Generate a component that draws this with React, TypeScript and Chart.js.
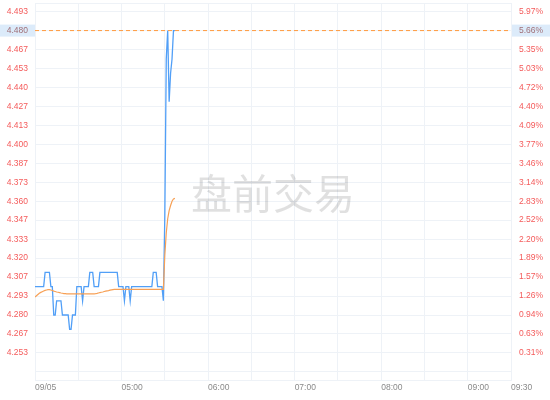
import { useEffect, useRef } from "react"
import { Chart, type ChartConfiguration, registerables } from "chart.js"

Chart.register(...registerables)

// minutes after 04:00
const xTickValues = [0, 30, 60, 90, 120, 150, 180, 210, 240, 270, 300, 330]
const xTickLabels = ["09/05", "", "05:00", "", "06:00", "", "07:00", "", "08:00", "", "09:00", "09:30"]

const yTickValues = [
  4.24, 4.2533, 4.2667, 4.28, 4.2933, 4.3067, 4.32, 4.3333, 4.3467, 4.36,
  4.3733, 4.3867, 4.4, 4.4133, 4.4267, 4.44, 4.4533, 4.4667, 4.48, 4.4933,
]
const yTickLabels = [
  "", "4.253", "4.267", "4.280", "4.293", "4.307", "4.320", "4.333", "4.347", "4.360",
  "4.373", "4.387", "4.400", "4.413", "4.427", "4.440", "4.453", "4.467", "4.480", "4.493",
]
const pctTickLabels = [
  "", "0.31%", "0.63%", "0.94%", "1.26%", "1.57%", "1.89%", "2.20%", "2.52%", "2.83%",
  "3.14%", "3.46%", "3.77%", "4.09%", "4.40%", "4.72%", "5.03%", "5.35%", "5.66%", "5.97%",
]

const lastPrice = 4.48
const lastPct = "5.66%"

const priceData = [
  4.30, 4.30, 4.30, 4.30, 4.30, 4.30, 4.30, 4.31, 4.31, 4.31,
  4.31, 4.30, 4.30, 4.28, 4.28, 4.29, 4.29, 4.29, 4.29, 4.28,
  4.28, 4.28, 4.28, 4.28, 4.27, 4.27, 4.28, 4.28, 4.28, 4.30,
  4.30, 4.30, 4.30, 4.29, 4.30, 4.30, 4.30, 4.30, 4.31, 4.31,
  4.31, 4.30, 4.30, 4.30, 4.30, 4.31, 4.31, 4.31, 4.31, 4.31,
  4.31, 4.31, 4.31, 4.31, 4.31, 4.31, 4.31, 4.31, 4.30, 4.30,
  4.30, 4.30, 4.29, 4.30, 4.30, 4.30, 4.29, 4.30, 4.30, 4.30,
  4.30, 4.30, 4.30, 4.30, 4.30, 4.30, 4.30, 4.30, 4.30, 4.30,
  4.30, 4.30, 4.31, 4.31, 4.31, 4.30, 4.30, 4.30, 4.30, 4.29,
  4.35, 4.46, 4.48, 4.43, 4.45, 4.46, 4.48, 4.48,
]

const avgData = [
  4.2926, 4.2935, 4.2944, 4.2953, 4.2959, 4.2964, 4.2969, 4.2973, 4.2976, 4.2978,
  4.2978, 4.2976, 4.2972, 4.2968, 4.2965, 4.2962, 4.296, 4.2958, 4.2955, 4.2953,
  4.2951, 4.295, 4.2949, 4.2949, 4.2949, 4.2949, 4.2949, 4.2949, 4.2949, 4.2949,
  4.2949, 4.2949, 4.2949, 4.2949, 4.2949, 4.2949, 4.2949, 4.2949, 4.2949, 4.2949,
  4.2949, 4.2949, 4.295, 4.2952, 4.2955, 4.2958, 4.296, 4.2962, 4.2965, 4.2968,
  4.297, 4.2972, 4.2975, 4.2977, 4.2979, 4.298, 4.298, 4.298, 4.298, 4.298,
  4.298, 4.298, 4.298, 4.298, 4.298, 4.298, 4.298, 4.298, 4.298, 4.298,
  4.298, 4.298, 4.298, 4.298, 4.298, 4.298, 4.298, 4.298, 4.298, 4.298,
  4.298, 4.298, 4.298, 4.298, 4.298, 4.298, 4.298, 4.298, 4.298, 4.298,
  4.322, 4.3377, 4.3477, 4.3534, 4.357, 4.36, 4.3616, 4.362,
]

const gridColor = "#eef2f7"
const tickFont = { family: "'Liberation Sans', Arial, sans-serif", size: 8.5 }

const decorPlugin = {
  id: "decor",
  beforeDatasetsDraw(chart: Chart) {
    const { ctx, chartArea } = chart
    ctx.save()
    ctx.fillStyle = "rgba(0,0,0,0.12)"
    ctx.font = "41px 'Noto Sans CJK SC'"
    ctx.textAlign = "center"
    ctx.textBaseline = "middle"
    ctx.fillText("盘前交易", (chartArea.left + chartArea.right) / 2, (chartArea.top + chartArea.bottom) / 2 + 2)
    ctx.strokeStyle = gridColor
    ctx.lineWidth = 1
    ctx.strokeRect(chartArea.left + 0.5, chartArea.top + 0.5, chartArea.right - chartArea.left, chartArea.bottom - chartArea.top)
    ctx.restore()
  },
  afterDraw(chart: Chart) {
    const { ctx, chartArea } = chart
    const y = chart.scales.y.getPixelForValue(lastPrice)
    ctx.save()
    ctx.fillStyle = "#dcebfa"
    ctx.fillRect(0, y - 6, chartArea.left, 12)
    ctx.fillRect(chartArea.right + 1, y - 6, chart.width - chartArea.right - 1, 12)
    ctx.fillStyle = "#a07078"
    ctx.font = "8.5px 'Liberation Sans', Arial, sans-serif"
    ctx.textBaseline = "middle"
    ctx.textAlign = "right"
    ctx.fillText(lastPrice.toFixed(3), chartArea.left - 7, y)
    ctx.textAlign = "left"
    ctx.fillText(lastPct, chartArea.right + 8, y)
    ctx.restore()
  },
}

export default function App() {
  const chartRef = useRef<HTMLCanvasElement>(null)
  const chartInstance = useRef<Chart>()

  useEffect(() => {
    document.body.style.margin = "0"
    if (!chartRef.current) return
    if (chartInstance.current) chartInstance.current.destroy()
    const ctx = chartRef.current.getContext("2d")
    if (!ctx) return

    const yRange = { min: 4.2343, max: 4.4994 }

    chartInstance.current = new Chart(ctx, {
      type: "line",
      data: {
        datasets: [
          {
            data: [
              { x: 0, y: lastPrice },
              { x: 330, y: lastPrice },
            ],
            borderColor: "#ff9a3c",
            borderWidth: 1,
            borderDash: [4, 3],
            pointRadius: 0,
          },
          {
            data: avgData.map((v, i) => ({ x: i, y: v })),
            borderColor: "#f7a055",
            borderWidth: 1.2,
            pointRadius: 0,
            tension: 0,
          },
          {
            data: priceData.map((v, i) => ({ x: i, y: v })),
            borderColor: "#519ff7",
            borderWidth: 1.3,
            pointRadius: 0,
            tension: 0,
          },
        ],
      },
      options: {
        responsive: false,
        animation: false,
        layout: { padding: { top: 3, left: 0, right: 0, bottom: 0 } },
        plugins: {
          legend: { display: false },
          tooltip: { enabled: false },
        },
        scales: {
          x: {
            type: "linear",
            min: 0,
            max: 330,
            afterBuildTicks: (scale: any) => {
              scale.ticks = xTickValues.map((v) => ({ value: v }))
            },
            afterFit: (scale: any) => {
              scale.height = 20
            },
            grid: { color: gridColor, drawTicks: false },
            border: { color: gridColor },
            ticks: {
              autoSkip: false,
              maxRotation: 0,
              align: "start",
              padding: 3,
              color: "#8a8a8a",
              font: tickFont,
              callback: (_v: any, i: number) => xTickLabels[i],
            },
          },
          y: {
            position: "left",
            ...yRange,
            afterBuildTicks: (scale: any) => {
              scale.ticks = yTickValues.map((v) => ({ value: v }))
            },
            afterFit: (scale: any) => {
              scale.width = 35
              scale.paddingTop = 0
              scale.paddingBottom = 0
            },
            grid: { color: gridColor, drawTicks: false },
            border: { color: gridColor },
            ticks: {
              padding: 7,
              color: "#f45b5b",
              font: tickFont,
              callback: (_v: any, i: number) => yTickLabels[i],
            },
          },
          y2: {
            position: "right",
            ...yRange,
            afterBuildTicks: (scale: any) => {
              scale.ticks = yTickValues.map((v) => ({ value: v }))
            },
            afterFit: (scale: any) => {
              scale.width = 39
              scale.paddingTop = 0
              scale.paddingBottom = 0
            },
            grid: { display: false, drawTicks: false },
            border: { color: gridColor },
            ticks: {
              padding: 8,
              color: "#f45b5b",
              font: tickFont,
              callback: (_v: any, i: number) => pctTickLabels[i],
            },
          },
        },
      },
      plugins: [decorPlugin],
    } as ChartConfiguration)

    return () => {
      if (chartInstance.current) chartInstance.current.destroy()
    }
  }, [])

  return (
    <div style={{ width: 550, height: 400, background: "#fff" }}>
      <canvas ref={chartRef} width={550} height={400} />
    </div>
  )
}
